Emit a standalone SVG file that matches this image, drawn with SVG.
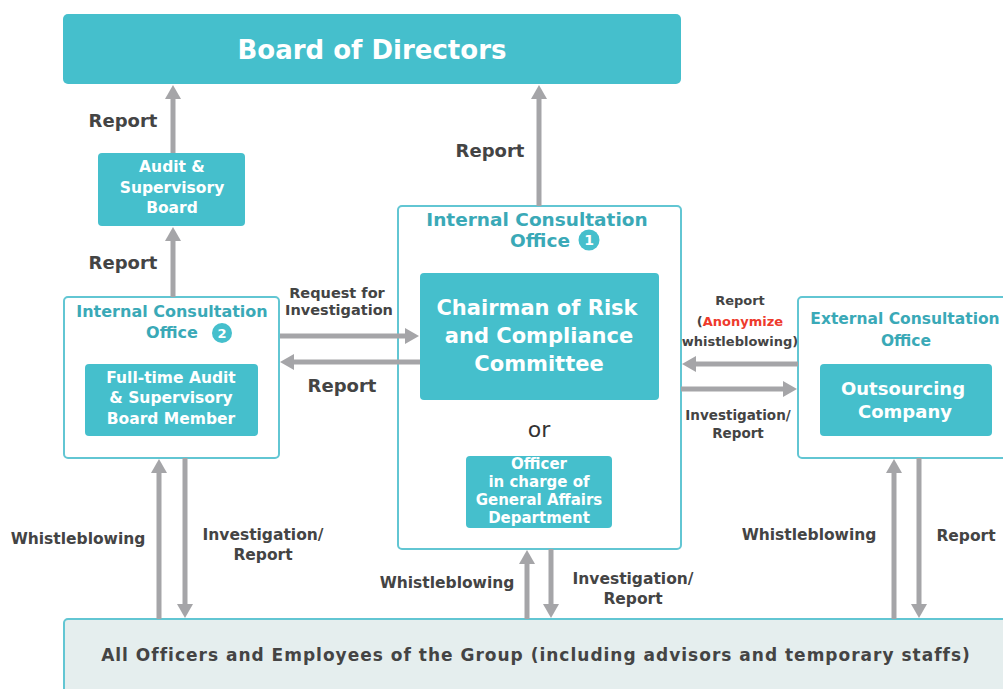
<svg xmlns="http://www.w3.org/2000/svg" width="1003" height="689" viewBox="0 0 1003 689">
<style>
.fill{fill:#45BFCC}
.frame{fill:#ffffff;stroke:#62C6D3;stroke-width:2}
.wt{fill:#ffffff;font-family:"DejaVu Sans",Verdana,sans-serif;font-weight:bold;text-anchor:middle;dominant-baseline:central}
.tt{fill:#3AA9B7;font-family:"DejaVu Sans",Verdana,sans-serif;font-weight:bold;text-anchor:middle;dominant-baseline:central}
.lb{fill:#444444;font-family:"DejaVu Sans",Verdana,sans-serif;font-weight:bold;text-anchor:middle;dominant-baseline:central}
.arr{stroke:#A5A5A8;stroke-width:5;fill:none;marker-end:url(#ah)}
</style>
<defs>
<marker id="ah" markerUnits="userSpaceOnUse" markerWidth="16" markerHeight="18" refX="2" refY="8" orient="auto" viewBox="0 0 16 16">
<path d="M0,0 L14,8 L0,16 z" fill="#A5A5A8"/>
</marker>
</defs>
<rect width="1003" height="689" fill="#ffffff"/>

<g id="board">
<rect class="fill" x="63" y="14" width="618" height="70" rx="5"/>
<text class="wt" x="372" y="50" font-size="26">Board of Directors</text>
</g>

<g id="audit-board">
<rect class="fill" x="98" y="153" width="147" height="73" rx="4"/>
<text class="wt" x="172" y="167" font-size="15.5">Audit &amp;</text>
<text class="wt" x="172" y="188" font-size="15.5">Supervisory</text>
<text class="wt" x="172" y="208" font-size="15.5">Board</text>
</g>

<g id="ico2">
<rect class="frame" x="64" y="297" width="215" height="161" rx="4"/>
<text class="tt" x="172" y="311" font-size="16">Internal Consultation</text>
<text class="tt" x="172" y="332" font-size="16">Office</text>
<circle cx="222" cy="333" r="10" fill="#45BFCC"/>
<text class="wt" x="222" y="333" font-size="13">2</text>
</g>

<g id="fulltime-member">
<rect class="fill" x="85" y="364" width="173" height="72" rx="4"/>
<text class="wt" x="171" y="378" font-size="15.5">Full-time Audit</text>
<text class="wt" x="171" y="398" font-size="15.5">&amp; Supervisory</text>
<text class="wt" x="171" y="419" font-size="15.5">Board Member</text>
</g>

<g id="ico1">
<rect class="frame" x="398" y="206" width="283" height="343" rx="4"/>
<text class="tt" x="537" y="219" font-size="18.5">Internal Consultation</text>
<text class="tt" x="540" y="240" font-size="18.5">Office</text>
<circle cx="589" cy="240" r="10.5" fill="#45BFCC"/>
<text class="wt" x="589" y="240" font-size="14">1</text>
<text x="539" y="429" font-size="22" fill="#333333" font-family="DejaVu Sans, Verdana, sans-serif" text-anchor="middle" dominant-baseline="central">or</text>
</g>

<g id="chairman">
<rect class="fill" x="420" y="273" width="239" height="127" rx="4"/>
<text class="wt" x="537" y="308" font-size="21">Chairman of Risk</text>
<text class="wt" x="539" y="336" font-size="21">and Compliance</text>
<text class="wt" x="539" y="364" font-size="21">Committee</text>
</g>

<g id="officer-ga">
<rect class="fill" x="466" y="456" width="146" height="72" rx="4"/>
<text class="wt" x="539" y="464" font-size="15">Officer</text>
<text class="wt" x="539" y="482" font-size="15">in charge of</text>
<text class="wt" x="539" y="500" font-size="15">General Affairs</text>
<text class="wt" x="539" y="518" font-size="15">Department</text>
</g>

<g id="external-office">
<rect class="frame" x="798" y="297" width="215" height="161" rx="4"/>
<text class="tt" x="905" y="319" font-size="15.5">External Consultation</text>
<text class="tt" x="906" y="341" font-size="15.5">Office</text>
</g>

<g id="outsourcing">
<rect class="fill" x="820" y="364" width="172" height="72" rx="4"/>
<text class="wt" x="903" y="388" font-size="18">Outsourcing</text>
<text class="wt" x="905" y="411" font-size="18">Company</text>
</g>

<g id="employees">
<rect x="64" y="619" width="950" height="80" rx="4" fill="#E5EEEE" stroke="#62C6D3" stroke-width="2"/>
<text class="lb" x="536" y="655" font-size="17" letter-spacing="1" fill="#333333">All Officers and Employees of the Group (including advisors and temporary staffs)</text>
</g>

<g id="connectors">
<line class="arr" x1="173" y1="153" x2="173" y2="97"/>
<line class="arr" x1="173" y1="297" x2="173" y2="239"/>
<line class="arr" x1="539" y1="206" x2="539" y2="97"/>
<line class="arr" x1="280" y1="336" x2="407" y2="336"/>
<line class="arr" x1="420" y1="362" x2="292" y2="362"/>
<line class="arr" x1="798" y1="364" x2="694" y2="364"/>
<line class="arr" x1="681" y1="389" x2="785" y2="389"/>
<line class="arr" x1="159" y1="619" x2="159" y2="471"/>
<line class="arr" x1="185" y1="458" x2="185" y2="606"/>
<line class="arr" x1="527" y1="619" x2="527" y2="562"/>
<line class="arr" x1="551" y1="549" x2="551" y2="606"/>
<line class="arr" x1="894" y1="619" x2="894" y2="471"/>
<line class="arr" x1="919" y1="458" x2="919" y2="606"/>
<text class="lb" x="123" y="120" font-size="18">Report</text>
<text class="lb" x="123" y="262" font-size="18">Report</text>
<text class="lb" x="490" y="150" font-size="18">Report</text>
<text class="lb" x="337" y="293" font-size="14.5">Request for</text>
<text class="lb" x="339" y="310" font-size="14.5">Investigation</text>
<text class="lb" x="342" y="385" font-size="18">Report</text>
<text class="lb" x="740" y="300" font-size="13">Report</text>
<text class="lb" x="740" y="321" font-size="13">(<tspan fill="#EE3A2C">Anonymize</tspan></text>
<text class="lb" x="740" y="341" font-size="13">whistleblowing)</text>
<text class="lb" x="738" y="415" font-size="13.5">Investigation/</text>
<text class="lb" x="738" y="433" font-size="13.5">Report</text>
<text class="lb" x="78" y="539" font-size="15.5">Whistleblowing</text>
<text class="lb" x="263" y="535" font-size="15.5">Investigation/</text>
<text class="lb" x="263" y="555" font-size="15.5">Report</text>
<text class="lb" x="447" y="583" font-size="15.5">Whistleblowing</text>
<text class="lb" x="633" y="579" font-size="15.5">Investigation/</text>
<text class="lb" x="633" y="599" font-size="15.5">Report</text>
<text class="lb" x="809" y="535" font-size="15.5">Whistleblowing</text>
<text class="lb" x="966" y="536" font-size="15.5">Report</text>
</g>
</svg>
